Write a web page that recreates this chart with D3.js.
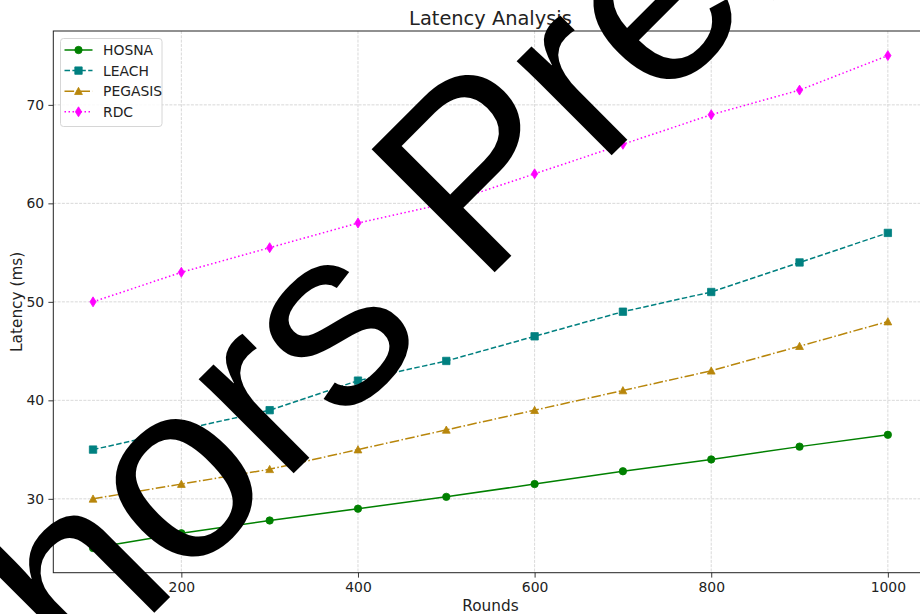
<!DOCTYPE html>
<html>
<head>
<meta charset="utf-8">
<script src="https://cdn.jsdelivr.net/npm/d3@7"></script>
<style>
  html, body { margin: 0; padding: 0; background: #fff; }
  svg { display: block; }
  text { font-family: "DejaVu Sans", sans-serif; }
</style>
</head>
<body>
<svg id="chart" width="920" height="614"></svg>
<script>
// Rounds on the x axis and latency (ms) per protocol
const rounds = [100, 200, 300, 400, 500, 600, 700, 800, 900, 1000];
const hosna = [25, 26.5, 27.8, 29, 30.2, 31.5, 32.8, 34, 35.3, 36.5];
const leach = [35, 37, 39, 42, 44, 46.5, 49, 51, 54, 57];
const pegasis = [30, 31.5, 33, 35, 37, 39, 41, 43, 45.5, 48];
const rdc = [50, 53, 55.5, 58, 60, 63, 66, 69, 71.5, 75];

const seriesNames = ["HOSNA", "LEACH", "PEGASIS", "RDC"];
const xTicks = [200, 400, 600, 800, 1000];
const yTicks = [30, 40, 50, 60, 70];

const titleText = "Latency Analysis";
const xLabel = "Rounds";
const yLabel = "Latency (ms)";
const watermark = "Authors Preprint";

const series = [
  { name: seriesNames[0], values: hosna,   color: "#008000", dash: null,             marker: "circle" },
  { name: seriesNames[1], values: leach,   color: "#008080", dash: "5.5,2.4",        marker: "square" },
  { name: seriesNames[2], values: pegasis, color: "#b8860b", dash: "9.6,2.4,1.5,2.4", marker: "triangle" },
  { name: seriesNames[3], values: rdc,     color: "#ff00ff", dash: "1.5,2.5",        marker: "diamond" }
];

const svg = d3.select("#chart");
const W = 920, H = 614;
const plot = { left: 53.3, top: 31, right: 927.6, bottom: 572.7 };

// axis ranges padded by 5% of the data span, like the usual autoscale
const xMin = d3.min(rounds), xMax = d3.max(rounds);
const xPad = (xMax - xMin) * 0.05;
const allVals = [].concat(hosna, leach, pegasis, rdc);
const yMin = d3.min(allVals), yMax = d3.max(allVals);
const yPad = (yMax - yMin) * 0.05;

const x = d3.scaleLinear().domain([xMin - xPad, xMax + xPad]).range([plot.left, plot.right]);
const y = d3.scaleLinear().domain([yMin - yPad, yMax + yPad]).range([plot.bottom, plot.top]);

svg.append("rect").attr("width", W).attr("height", H).attr("fill", "#fff");

// grid
const grid = svg.append("g").attr("stroke", "#cfcfcf").attr("stroke-width", 0.8)
  .attr("stroke-dasharray", "3,1.3");
grid.selectAll(".gx").data(xTicks).join("line")
  .attr("x1", d => x(d)).attr("x2", d => x(d))
  .attr("y1", plot.top).attr("y2", plot.bottom);
grid.selectAll(".gy").data(yTicks).join("line")
  .attr("x1", plot.left).attr("x2", plot.right)
  .attr("y1", d => y(d)).attr("y2", d => y(d));

// axes
const xAxis = d3.axisBottom(x).tickValues(xTicks).tickSize(4.9).tickPadding(4.2).tickFormat(d3.format("d"));
const yAxis = d3.axisLeft(y).tickValues(yTicks).tickSize(4.9).tickPadding(4.2).tickFormat(d3.format("d"));

const gx = svg.append("g").attr("transform", `translate(0,${plot.bottom})`).call(xAxis);
const gy = svg.append("g").attr("transform", `translate(${plot.left},0)`).call(yAxis);
[gx, gy].forEach(g => {
  g.select(".domain").remove();
  g.selectAll(".tick line").attr("stroke", "#222").attr("stroke-width", 0.9);
  g.selectAll(".tick text").attr("fill", "#222").style("font-size", "13.9px")
    .style("font-family", "DejaVu Sans");
});

// spines
svg.append("rect")
  .attr("x", plot.left).attr("y", plot.top)
  .attr("width", plot.right - plot.left).attr("height", plot.bottom - plot.top)
  .attr("fill", "none").attr("stroke", "#222").attr("stroke-width", 1);

// marker shapes
function markerPath(type, s) {
  const h = s / 2;
  if (type === "square") return `M${-h},${-h}H${h}V${h}H${-h}Z`;
  if (type === "triangle") return `M0,${-h * 1.05}L${h * 1.05},${h * 0.9}L${-h * 1.05},${h * 0.9}Z`;
  if (type === "diamond") return `M0,${-h * 1.35}L${h * 0.85},0L0,${h * 1.35}L${-h * 0.85},0Z`;
  return d3.symbol(d3.symbolCircle, Math.PI * h * h)();
}

const line = d3.line().x(d => x(d[0])).y(d => y(d[1]));

const lines = svg.append("g");
series.forEach(s => {
  const pts = rounds.map((r, i) => [r, s.values[i]]);
  const g = lines.append("g");
  g.append("path").datum(pts)
    .attr("d", line).attr("fill", "none")
    .attr("stroke", s.color).attr("stroke-width", 1.5)
    .attr("stroke-dasharray", s.dash);
  g.selectAll("path.m").data(pts).join("path")
    .attr("class", "m")
    .attr("transform", d => `translate(${x(d[0])},${y(d[1])})`)
    .attr("d", markerPath(s.marker, 7.4))
    .attr("fill", s.color).attr("stroke", s.color).attr("stroke-width", 0.8);
});

// legend
const leg = svg.append("g").attr("transform", "translate(60.5,38.5)");
leg.append("rect").attr("width", 101.5).attr("height", 88).attr("rx", 3)
  .attr("fill", "#fff").attr("fill-opacity", 0.85)
  .attr("stroke", "#d6d6d6").attr("stroke-width", 1);
series.forEach((s, i) => {
  const ly = 11.5 + i * 20.6;
  leg.append("line").attr("x1", 4).attr("x2", 32).attr("y1", ly).attr("y2", ly)
    .attr("stroke", s.color).attr("stroke-width", 1.5).attr("stroke-dasharray", s.dash);
  leg.append("path").attr("transform", `translate(18,${ly})`)
    .attr("d", markerPath(s.marker, 7.4))
    .attr("fill", s.color).attr("stroke", s.color).attr("stroke-width", 0.8);
  leg.append("text").attr("x", 42.5).attr("y", ly).attr("dy", "0.36em")
    .attr("fill", "#222").style("font-size", "13.9px").text(s.name);
});

// titles
svg.append("text").attr("x", (plot.left + plot.right) / 2).attr("y", 25)
  .attr("text-anchor", "middle").attr("fill", "#222")
  .style("font-size", "19.4px").text(titleText);
svg.append("text").attr("x", (plot.left + plot.right) / 2).attr("y", 611)
  .attr("text-anchor", "middle").attr("fill", "#222")
  .style("font-size", "15.3px").text(xLabel);
svg.append("text")
  .attr("transform", `translate(22,${(plot.top + plot.bottom) / 2}) rotate(-90)`)
  .attr("text-anchor", "middle").attr("fill", "#222")
  .style("font-size", "15.3px").text(yLabel);

// diagonal watermark across the whole figure, centred on the canvas;
// the stamp layer ends just under the baseline, so descenders are cut
const wmSize = 253;
svg.append("defs").append("clipPath").attr("id", "wm-clip")
  .append("rect")
  .attr("x", -2000).attr("y", -wmSize * 1.2)
  .attr("width", 4000).attr("height", wmSize * 1.2 + 5);
svg.append("g")
  .attr("transform", `translate(${W / 2},${H / 2}) rotate(-45)`)
  .attr("clip-path", "url(#wm-clip)")
  .append("text")
  .attr("text-anchor", "middle").attr("fill", "#000")
  .style("font-family", "'Liberation Sans', Arial, sans-serif")
  .style("font-size", wmSize + "px").text(watermark);
</script>
</body>
</html>
